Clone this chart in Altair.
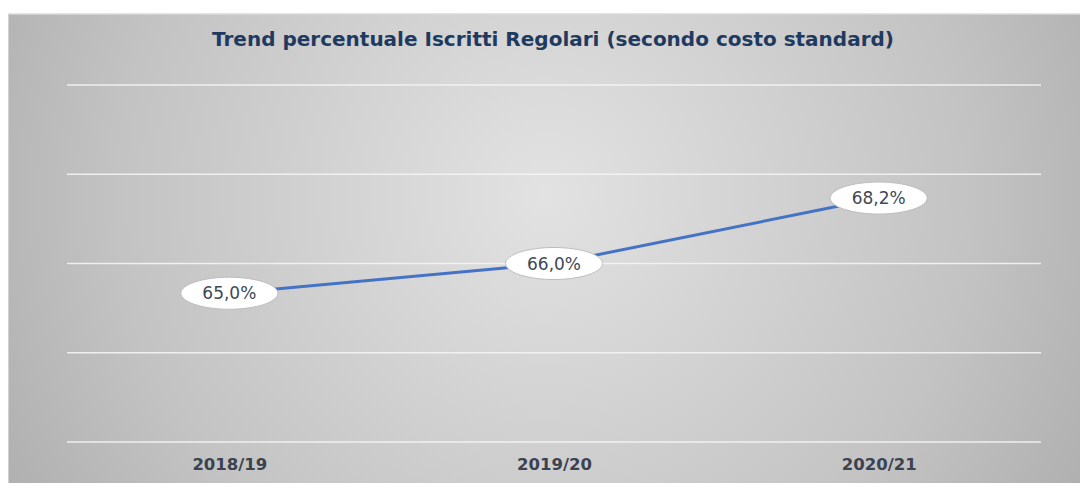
import altair as alt
import pandas as pd

# Data
years = ["2018/19", "2019/20", "2020/21"]
values = [65.0, 66.0, 68.2]
grid_ticks = [60, 63, 66, 69, 72]
title_text = "Trend percentuale Iscritti Regolari (secondo costo standard)"

labels = [f"{v:.1f}".replace(".", ",") + "%" for v in values]
df = pd.DataFrame({"anno": years, "valore": values, "etichetta": labels})
grid_df = pd.DataFrame({"g": grid_ticks})
bg_df = pd.DataFrame({"bg": [0]})
title_df = pd.DataFrame({"t": [title_text]})

W, H = 974, 357
PL, PT, PR, PB = 59, 77, 39, 41

yscale = alt.Scale(domain=[60, 72], zero=False, nice=False)
xscale = alt.Scale(domain=years)

bg = alt.Chart(bg_df).mark_rect(
    fill=alt.Gradient(
        gradient="radial",
        stops=[alt.GradientStop(color="#e2e2e2", offset=0),
               alt.GradientStop(color="#c3c3c3", offset=0.55),
               alt.GradientStop(color="#9f9f9f", offset=1)],
        x1=0.5, y1=0.45, x2=0.5, y2=0.45, r1=0, r2=0.72),
    stroke="#dadada", strokeWidth=1.5,
).encode(
    x=alt.value(-PL), x2=alt.value(W + PR + 2),
    y=alt.value(-PT + 6), y2=alt.value(H + PB + 2),
)

grid = alt.Chart(grid_df).mark_rule(color="#f4f4f4", strokeWidth=1.5, opacity=0.9).encode(
    y=alt.Y("g:Q", scale=yscale, axis=None),
    x=alt.value(0), x2=alt.value(W),
)

title = alt.Chart(title_df).mark_text(
    font="DejaVu Sans", fontSize=20, fontWeight="bold", color="#1f3a60",
    align="center", baseline="middle",
).encode(text="t:N", x=alt.value(W / 2 - 1), y=alt.value(-45))

base = alt.Chart(df).encode(
    x=alt.X("anno:N", scale=xscale, sort=years, title=None,
            axis=alt.Axis(labelAngle=0, domain=False, ticks=False, labelPadding=14,
                          labelFont="DejaVu Sans", labelFontSize=16.5, labelFontWeight="bold",
                          labelColor="#3b4250", zindex=1)),
    y=alt.Y("valore:Q", scale=yscale, axis=None),
)

line = base.mark_line(color="#4472C4", strokeWidth=3)

ellipse_path = ("M -1,0 C -1,-0.1822 -0.5523,-0.33 0,-0.33 C 0.5523,-0.33 1,-0.1822 1,0 "
                "C 1,0.1822 0.5523,0.33 0,0.33 C -0.5523,0.33 -1,0.1822 -1,0 Z")
pts = base.mark_point(shape=ellipse_path, size=9409, filled=True, fill="white",
                      stroke="#bdbdbd", strokeWidth=1, opacity=1, fillOpacity=1)

txt = base.mark_text(font="DejaVu Sans", fontSize=17, color="#404855",
                     align="center", baseline="middle", dy=1).encode(text="etichetta:N")

chart = alt.layer(bg, grid, title, line, pts, txt).properties(
    width=W, height=H,
    padding={"left": PL, "top": PT, "right": PR, "bottom": PB},
    autosize=alt.AutoSizeParams(type="none"),
).configure_view(stroke=None).configure(background="white")

chart.save("out.html", embed_options={"renderer": "svg", "actions": False})
